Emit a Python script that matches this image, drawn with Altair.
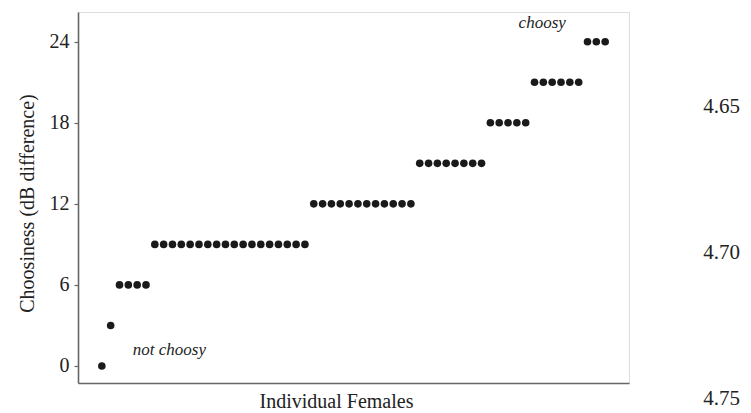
import altair as alt
import pandas as pd

# Choosiness levels (dB difference) and how many females share each level
levels = [0, 3, 6, 9, 12, 15, 18, 21, 24]
counts = [1, 1, 4, 18, 12, 8, 5, 6, 3]

# Annotation texts
notes_text = ["not choosy", "choosy"]
notes_x = [3.5, 47.2]
notes_y = [1.2, 25.4]

# Right-hand labels
right_labels = [4.65, 4.70, 4.75]

y_ticks = [0, 6, 12, 18, 24]

vals = []
for lv, c in zip(levels, counts):
    vals += [lv] * c
df = pd.DataFrame({"idx": list(range(len(vals))), "choosiness": vals})
notes = pd.DataFrame({"x": notes_x, "y": notes_y, "t": notes_text})
right = pd.DataFrame({"v": right_labels, "lab": [f"{v:.2f}" for v in right_labels]})

FONT = "Times New Roman, Liberation Serif, serif"

xs = alt.Scale(domain=[-2.7, 59.7], nice=False, zero=False)
ys = alt.Scale(domain=[-1.26, 26.2], nice=False, zero=False)

points = alt.Chart(df).mark_circle(size=58, color="#1a1a1a", opacity=1).encode(
    x=alt.X("idx:Q", scale=xs,
            axis=alt.Axis(title="Individual Females", labels=False, ticks=False,
                          grid=False, domainColor="#666666", domainWidth=1.6,
                          titleFont=FONT, titleFontSize=20, titleFontWeight="normal",
                          titleColor="#222222", titlePadding=8,
                          titleX=258, titleAlign="center")),
    y=alt.Y("choosiness:Q", scale=ys,
            axis=alt.Axis(title="Choosiness (dB difference)", values=y_ticks,
                          grid=False, domainColor="#666666", domainWidth=1.6,
                          tickColor="#666666", tickSize=4, tickWidth=1.2,
                          labelFont=FONT, labelFontSize=20, labelColor="#222222",
                          labelPadding=5,
                          titleFont=FONT, titleFontSize=20, titleFontWeight="normal",
                          titleColor="#222222", titlePadding=12,
                          titleY=191, titleAlign="center")),
)

annot = alt.Chart(notes).mark_text(font=FONT, fontSize=17, fontStyle="italic",
                                   align="left", baseline="middle", color="#222222").encode(
    x=alt.X("x:Q", scale=xs),
    y=alt.Y("y:Q", scale=ys),
    text="t:N",
)

base = alt.layer(points, annot)

rlab = alt.Chart(right).mark_text(font=FONT, fontSize=21, align="right",
                                  baseline="middle", color="#222222").encode(
    x=alt.value(662),
    y=alt.Y("v:Q", scale=alt.Scale(domain=[4.6175, 4.7445], reverse=True,
                                    nice=False, zero=False), axis=None),
    text="lab:N",
)

chart = alt.layer(base, rlab).resolve_scale(y="independent").properties(
    width=551, height=371,
    autosize=alt.AutoSizeParams(type="none"),
    padding={"left": 70, "top": 4, "right": 113, "bottom": 28},
).configure_view(stroke=None).configure(background="white")

chart.save("out.html", embed_options={"renderer": "svg", "actions": False})
